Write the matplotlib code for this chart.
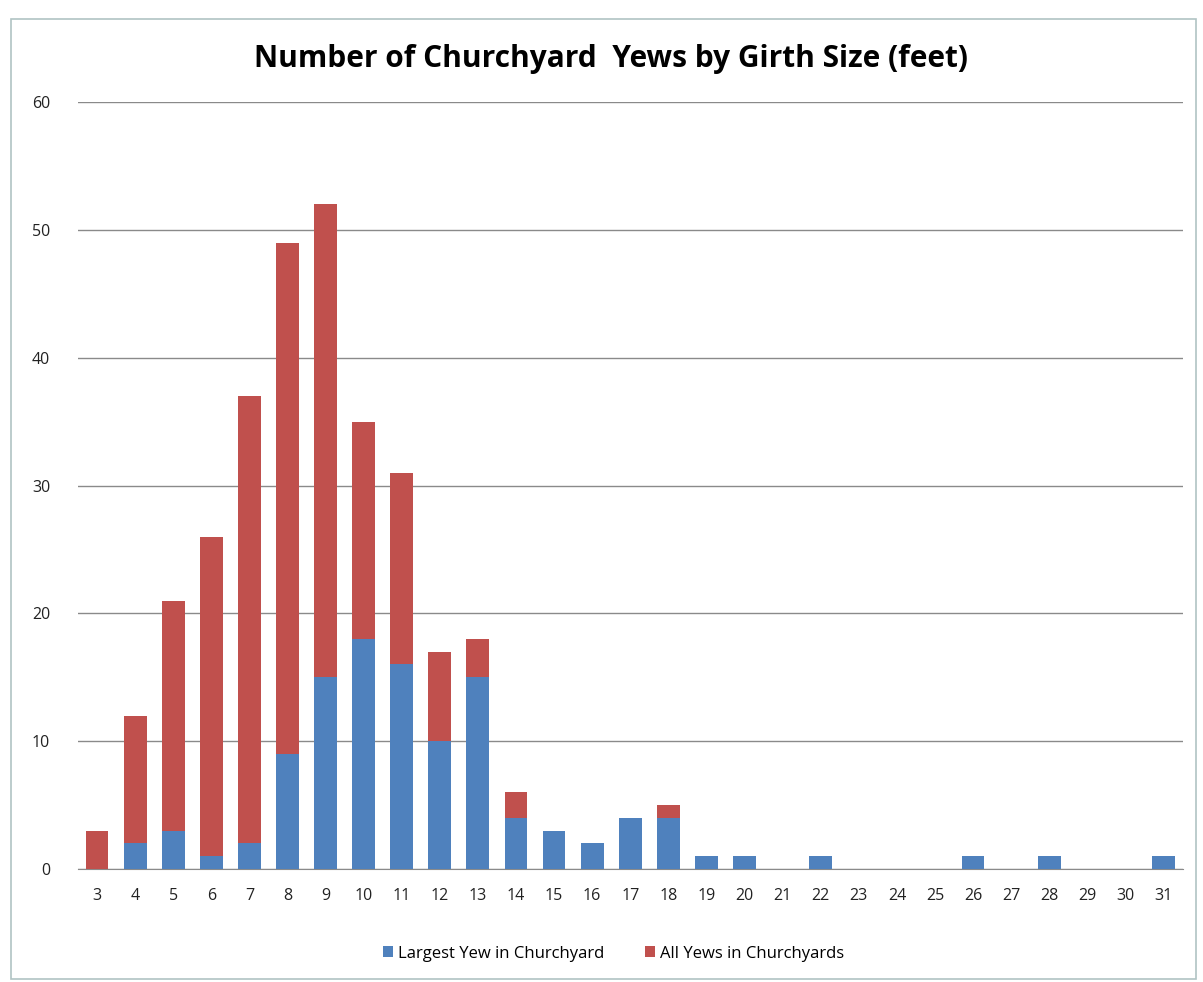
import numpy as np
import matplotlib.pyplot as plt
from matplotlib.patches import Rectangle

# girth sizes (feet) and counts
girth = ['3', '4', '5', '6', '7', '8', '9', '10', '11', '12', '13', '14', '15', '16',
         '17', '18', '19', '20', '21', '22', '23', '24', '25', '26', '27', '28', '29',
         '30', '31']
largest = [0, 2, 3, 1, 2, 9, 15, 18, 16, 10, 15, 4, 3, 2,
           4, 4, 1, 1, 0, 1, 0, 0, 0, 1, 0, 1, 0, 0, 1]
all_yews = [3, 12, 21, 26, 37, 49, 52, 35, 31, 17, 18, 6, 3, 2,
            4, 5, 1, 1, 0, 1, 0, 0, 0, 1, 0, 1, 0, 0, 1]
yticks = [0, 10, 20, 30, 40, 50, 60]

blue = '#4F81BD'
red = '#C0504D'

plt.rcParams['font.family'] = ['Open Sans', 'DejaVu Sans']

fig = plt.figure(figsize=(12.03, 9.82), dpi=100)
ax = fig.add_axes([0.0648, 0.1151, 0.9182, 0.7809])

x = np.arange(len(girth))
top = np.array(all_yews) - np.array(largest)
ax.bar(x, largest, width=0.6, color=blue, label='Largest Yew in Churchyard', zorder=3)
ax.bar(x, top, width=0.6, bottom=largest, color=red, label='All Yews in Churchyards', zorder=3)

ax.set_xlim(-0.5, len(girth) - 0.5)
ax.set_ylim(0, 60)
ax.set_yticks(yticks)
ax.set_xticks(x)
ax.set_xticklabels(girth)
ax.tick_params(axis='both', length=0, labelsize=11.5, colors='#222222')
ax.tick_params(axis='x', pad=14)
ax.tick_params(axis='y', pad=20)
ax.grid(axis='y', color='#8a8a8a', linewidth=1.0, zorder=0)
for s in ['left', 'right', 'top']:
    ax.spines[s].set_visible(False)
ax.spines['bottom'].set_color('#8a8a8a')

fig.text(0.508, 0.940, 'Number of Churchyard  Yews by Girth Size (feet)',
         ha='center', va='center', fontsize=21.5, fontweight='bold')

fig.legend(loc='center', bbox_to_anchor=(0.51, 0.029), ncol=2, frameon=False,
           fontsize=12, handlelength=0.6, handleheight=0.6, columnspacing=2.5,
           handletextpad=0.3)

# chart area frame
fig.patches.append(Rectangle((0.009, 0.003), 0.985, 0.978, transform=fig.transFigure,
                             fill=False, edgecolor='#b0c4c4', linewidth=1.2))

fig.savefig('out.png', dpi=100)
